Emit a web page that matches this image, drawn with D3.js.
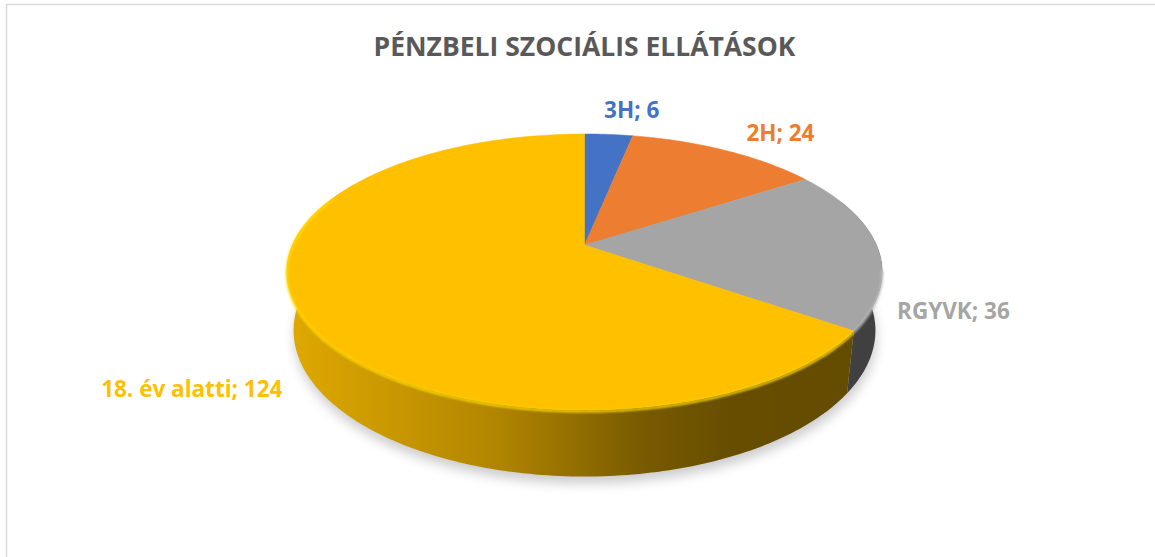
<!DOCTYPE html>
<html>
<head>
<meta charset="UTF-8">
<title>Pénzbeli szociális ellátások</title>
<style>
  html, body { margin: 0; padding: 0; background: #fff; }
  svg { display: block; }
</style>
</head>
<body>
<svg width="1155" height="557"></svg>
<script src="https://d3js.org/d3.v7.min.js"></script>
<script>
// data
var categories = ["3H", "2H", "RGYVK", "18. év alatti"];
var values = [6, 24, 36, 124];
var colors = ["#4472c4", "#ed7d31", "#a5a5a5", "#ffc000"];
var title = "PÉNZBELI SZOCIÁLIS ELLÁTÁSOK";

// label offsets from the rim point of each slice (layout only)
var labelOffsets = [[23, -25], [55, -18], [76, 64], [-108, 77]];

// 3d pie geometry
var cx = 584.5, cy = 245;   // apex of the slices
var R = 292;                // radius
var H = 66;                 // thickness
var tilt = Math.asin(0.4545);
var D = 1331;               // camera distance
var sinA = Math.sin(tilt), cosA = Math.cos(tilt);

var svg = d3.select("svg");
var width = +svg.attr("width"), height = +svg.attr("height");

var defs = svg.append("defs");
defs.append("filter").attr("id", "shadow")
  .attr("x", "-20%").attr("y", "-20%").attr("width", "140%").attr("height", "140%")
  .append("feGaussianBlur").attr("stdDeviation", 6);
defs.append("filter").attr("id", "soft")
  .append("feGaussianBlur").attr("stdDeviation", 0.8);

// chart border
svg.append("rect")
  .attr("x", 6.5).attr("y", 4.5)
  .attr("width", width + 20).attr("height", height + 20)
  .attr("fill", "#fff").attr("stroke", "#d9d9d9").attr("stroke-width", 1.5);

// project angle (clockwise from 12 o'clock, far side) at height y (0 top, -H bottom)
function proj(theta, y) {
  var X = R * Math.sin(theta), Z = R * Math.cos(theta);
  var u = Z * sinA + y * cosA;
  var w = Z * cosA - y * sinA;
  var s = D / (D + w);
  return [cx + X * s, cy - u * s];
}

function ring(a0, a1, y) {
  var n = Math.max(2, Math.ceil((a1 - a0) / (Math.PI / 180)));
  return d3.range(n + 1).map(function (i) { return proj(a0 + (a1 - a0) * i / n, y); });
}

var line = d3.line();

var data = categories.map(function (c, i) { return { name: c, value: values[i], color: colors[i] }; });
var arcs = d3.pie().sort(null).value(function (d) { return d.value; })(data);

// shadow under the pie
svg.append("path")
  .attr("d", line(ring(0, 2 * Math.PI, -H)) + "Z")
  .attr("transform", "translate(1,7)")
  .attr("fill", "#000").attr("opacity", 0.2)
  .attr("filter", "url(#shadow)");

// wall lighting: brightness along the width of the pie
var xs = d3.range(0, 361, 1).map(function (d) { return proj(d * Math.PI / 180, 0)[0]; });
var xMin = d3.min(xs), xMax = d3.max(xs);
var shadeStops = [0, 0.19, 0.36, 0.5, 0.6, 0.75, 1];
var shadeK = [0.88, 0.78, 0.69, 0.56, 0.47, 0.40, 0.39];

arcs.forEach(function (a, i) {
  var g = defs.append("linearGradient").attr("id", "wall" + i)
    .attr("gradientUnits", "userSpaceOnUse")
    .attr("x1", xMin).attr("x2", xMax).attr("y1", 0).attr("y2", 0);
  var c = d3.rgb(a.data.color);
  shadeStops.forEach(function (s, j) {
    var k = shadeK[j];
    g.append("stop").attr("offset", s)
      .attr("stop-color", d3.rgb(c.r * k, c.g * k, c.b * k).toString());
  });
});

// walls (near half, a little past the silhouette)
var wLo = 70 * Math.PI / 180, wHi = 300 * Math.PI / 180;
svg.append("g").selectAll("path")
  .data(arcs.filter(function (a) { return a.endAngle > wLo && a.startAngle < wHi; }))
  .enter().append("path")
  .attr("d", function (a) {
    var a0 = Math.max(a.startAngle, wLo), a1 = Math.min(a.endAngle, wHi);
    return line(ring(a0, a1, 0).concat(ring(a0, a1, -H).reverse())) + "Z";
  })
  .attr("fill", function (a) { return "url(#wall" + a.index + ")"; });

// top faces
svg.append("g").selectAll("path")
  .data(arcs).enter().append("path")
  .attr("d", function (a) {
    return line([[cx, cy]].concat(ring(a.startAngle, a.endAngle, 0))) + "Z";
  })
  .attr("fill", function (a) { return a.data.color; })
  .attr("stroke", function (a) { return a.data.color; })
  .attr("stroke-width", 0.5);

// bevel highlight on the rim
var lo = 100 * Math.PI / 180, hi = 292 * Math.PI / 180;
svg.append("g").selectAll("path")
  .data(arcs.filter(function (a) { return a.endAngle > lo && a.startAngle < hi; }))
  .enter().append("path")
  .attr("d", function (a) {
    return line(ring(Math.max(a.startAngle, lo), Math.min(a.endAngle, hi), -1.5));
  })
  .attr("fill", "none")
  .attr("stroke", function (a) { return d3.color(a.data.color).brighter(0.35); })
  .attr("stroke-width", 2.2)
  .attr("filter", "url(#soft)");

// title
svg.append("text")
  .attr("x", cx).attr("y", 56)
  .attr("text-anchor", "middle")
  .attr("font-family", "'Open Sans', sans-serif")
  .attr("font-weight", "bold")
  .attr("font-size", 26.5)
  .attr("fill", "#595959")
  .text(title);

// labels
svg.append("g").selectAll("text")
  .data(arcs).enter().append("text")
  .attr("x", function (a, i) { return proj((a.startAngle + a.endAngle) / 2, 0)[0] + labelOffsets[i][0]; })
  .attr("y", function (a, i) { return proj((a.startAngle + a.endAngle) / 2, 0)[1] + labelOffsets[i][1]; })
  .attr("dy", "0.36em")
  .attr("text-anchor", "middle")
  .attr("font-family", "'Open Sans', sans-serif")
  .attr("font-weight", "bold")
  .attr("font-size", 22.5)
  .attr("fill", function (a) { return a.data.color; })
  .text(function (a) { return a.data.name + "; " + a.data.value; });
</script>
</body>
</html>
